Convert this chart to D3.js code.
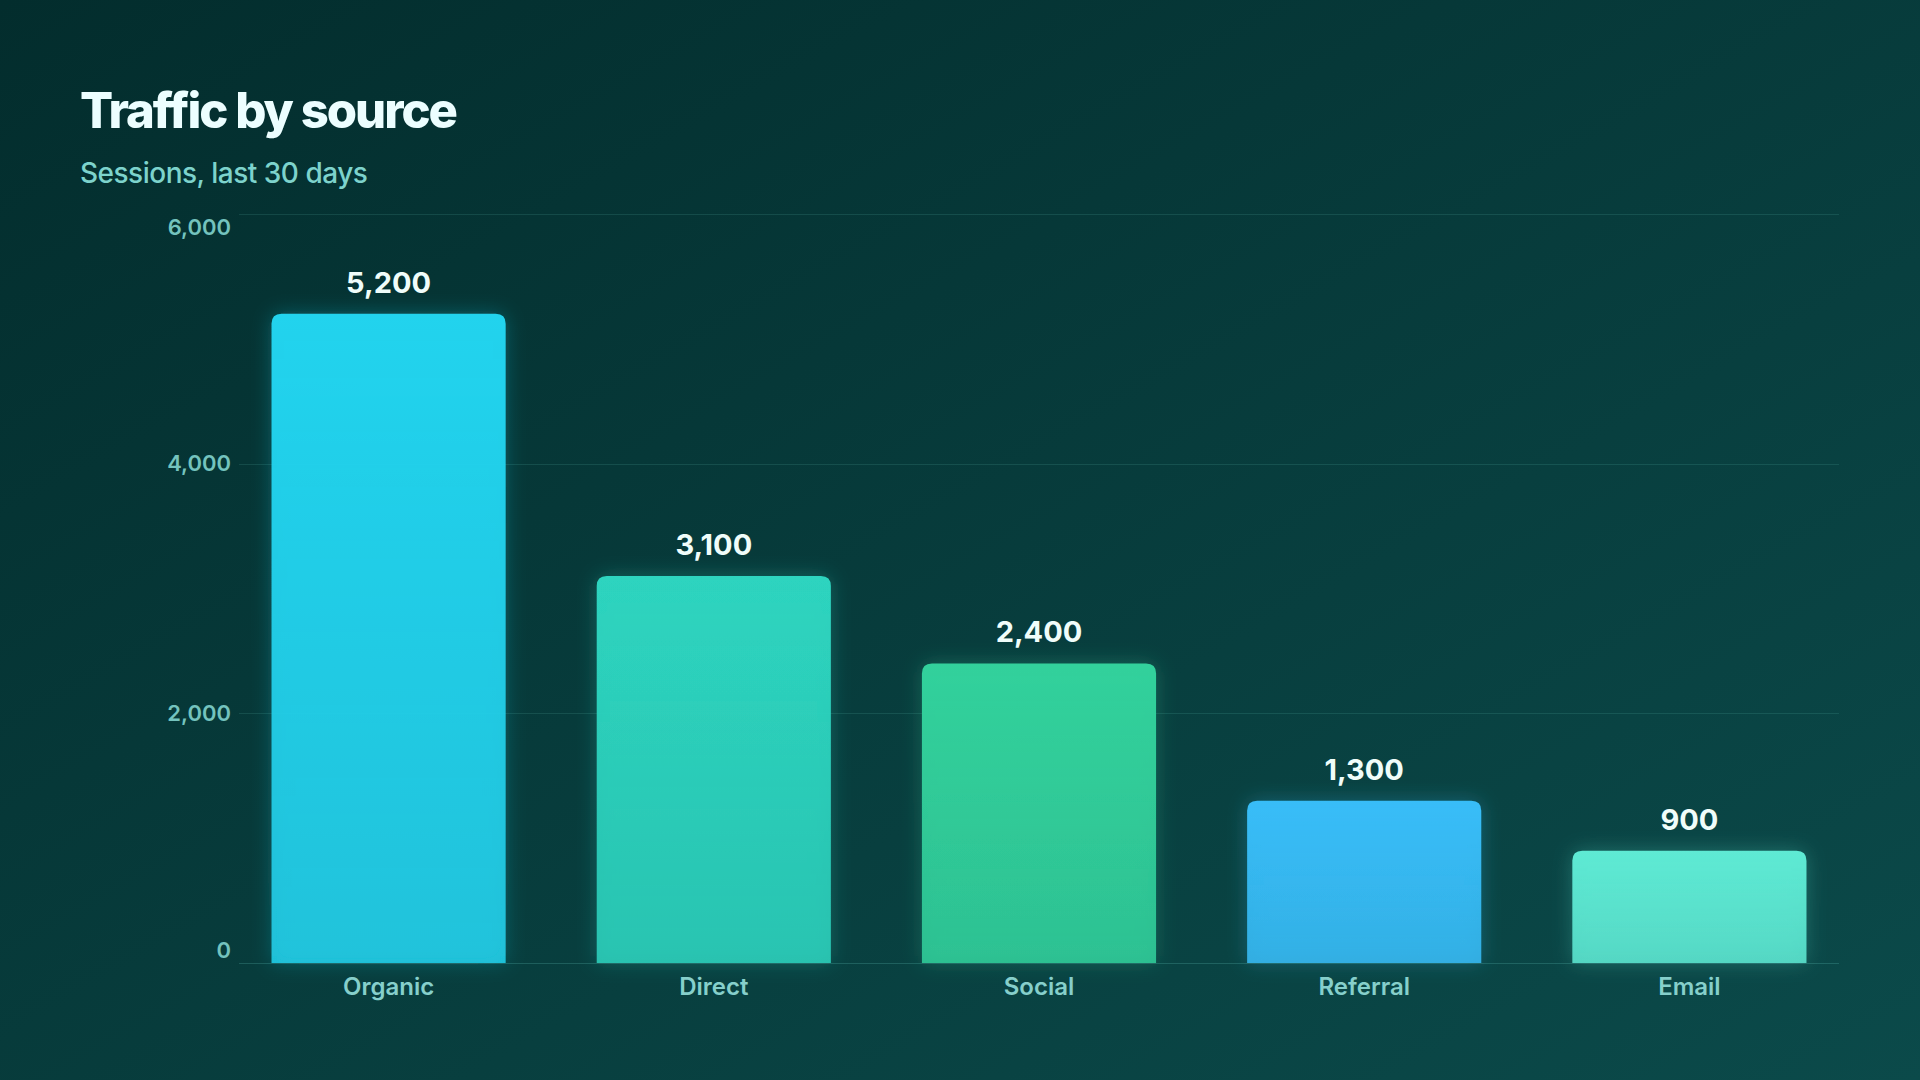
<!DOCTYPE html>
<html>
<head>
<meta charset="utf-8">
<script src="https://cdn.jsdelivr.net/npm/d3@7"></script>
<style>
  html, body { margin: 0; padding: 0; background: #053634; }
  svg { display: block; font-family: Inter, 'Noto Sans', sans-serif; }
</style>
</head>
<body>
<svg id="chart"></svg>
<script>
// Traffic by source — bar chart
const categories = ['Organic', 'Direct', 'Social', 'Referral', 'Email'];
const sessions = [5200, 3100, 2400, 1300, 900];
const barColors = ['#22d3ee', '#2dd4bf', '#32d19c', '#38bdf8', '#5eead4'];
const yTicks = [0, 2000, 4000, 6000];

const width = 1920;
const height = 1080;
const margin = { top: 214, right: 81, bottom: 117, left: 239 };

const svg = d3.select('#chart')
  .attr('width', width)
  .attr('height', height)
  .attr('viewBox', `0 0 ${width} ${height}`);

const defs = svg.append('defs');

// Background
const bg = defs.append('linearGradient')
  .attr('id', 'bg')
  .attr('x1', '0').attr('y1', '0')
  .attr('x2', '1').attr('y2', '1');
bg.append('stop').attr('offset', '0%').attr('stop-color', '#032d2d');
bg.append('stop').attr('offset', '100%').attr('stop-color', '#0b4a4a');

svg.append('rect')
  .attr('width', width)
  .attr('height', height)
  .attr('fill', 'url(#bg)');

// Bar gradients, one per colour
barColors.forEach((c, i) => {
  const g = defs.append('linearGradient')
    .attr('id', `bar-${i}`)
    .attr('x1', '0').attr('y1', '0')
    .attr('x2', '0').attr('y2', '1');
  g.append('stop').attr('offset', '0%').attr('stop-color', c).attr('stop-opacity', 1);
  g.append('stop').attr('offset', '100%').attr('stop-color', c).attr('stop-opacity', 0.86);
});

// Soft glow
const glow = defs.append('filter')
  .attr('id', 'glow')
  .attr('x', '-30%').attr('y', '-30%')
  .attr('width', '160%').attr('height', '160%');
glow.append('feGaussianBlur')
  .attr('in', 'SourceGraphic')
  .attr('stdDeviation', 10)
  .attr('result', 'blur');
glow.append('feComponentTransfer')
  .attr('in', 'blur')
  .attr('result', 'faded')
  .append('feFuncA').attr('type', 'linear').attr('slope', 0.28);
const merge = glow.append('feMerge');
merge.append('feMergeNode').attr('in', 'faded');
merge.append('feMergeNode').attr('in', 'SourceGraphic');

// Title
svg.append('text')
  .attr('x', 80)
  .attr('y', 128)
  .attr('font-size', '49px')
  .attr('font-weight', 800)
  .attr('letter-spacing', '-2px')
  .attr('fill', '#ecfeff')
  .text('Traffic by source');

svg.append('text')
  .attr('x', 80)
  .attr('y', 183)
  .attr('font-size', '28px')
  .attr('font-weight', 500)
  .attr('letter-spacing', '-0.5px')
  .attr('fill', '#7dd3cc')
  .text('Sessions, last 30 days');

// Scales
const x = d3.scaleBand()
  .domain(categories)
  .range([margin.left, width - margin.right])
  .paddingInner(0.28)
  .paddingOuter(0.1);

const y = d3.scaleLinear()
  .domain([0, 6000])
  .range([height - margin.bottom, margin.top]);

// Gridlines
svg.append('g')
  .selectAll('line')
  .data(yTicks)
  .join('line')
  .attr('x1', margin.left)
  .attr('x2', width - margin.right)
  .attr('y1', d => Math.round(y(d)) + 0.5)
  .attr('y2', d => Math.round(y(d)) + 0.5)
  .attr('stroke', d => d === 0 ? 'rgba(110, 210, 200, 0.22)' : 'rgba(110, 210, 200, 0.14)')
  .attr('stroke-width', 1);

// Y tick labels (outer ones nudged inside the plot)
const fmt = d3.format(',');
const yMax = d3.max(yTicks);
svg.append('g')
  .selectAll('text')
  .data(yTicks)
  .join('text')
  .attr('x', margin.left - 8)
  .attr('y', d => y(d))
  .attr('dy', d => d === yMax ? '0.95em' : d === 0 ? '-0.25em' : '0.35em')
  .attr('text-anchor', 'end')
  .attr('font-size', '22px')
  .attr('font-weight', 600)
  .attr('fill', '#74c3be')
  .text(d => fmt(d));

// Bars with rounded top corners
const r = 10;
function barPath(d) {
  const x0 = x(d.cat);
  const w = x.bandwidth();
  const y0 = y(d.value);
  const y1 = y(0);
  return `M${x0},${y1}V${y0 + r}Q${x0},${y0} ${x0 + r},${y0}H${x0 + w - r}Q${x0 + w},${y0} ${x0 + w},${y0 + r}V${y1}Z`;
}

const data = categories.map((cat, i) => ({ cat, value: sessions[i], i }));

svg.append('g')
  .selectAll('path')
  .data(data)
  .join('path')
  .attr('d', barPath)
  .attr('fill', d => `url(#bar-${d.i})`)
  .attr('filter', 'url(#glow)');

// Value labels
svg.append('g')
  .selectAll('text')
  .data(data)
  .join('text')
  .attr('x', d => x(d.cat) + x.bandwidth() / 2)
  .attr('y', d => y(d.value) - 21)
  .attr('text-anchor', 'middle')
  .attr('font-size', '29px')
  .attr('font-weight', 700)
  .attr('fill', '#f0fdfa')
  .text(d => fmt(d.value));

// Category labels
svg.append('g')
  .selectAll('text')
  .data(categories)
  .join('text')
  .attr('x', d => x(d) + x.bandwidth() / 2)
  .attr('y', height - margin.bottom + 32)
  .attr('text-anchor', 'middle')
  .attr('font-size', '24px')
  .attr('font-weight', 600)
  .attr('fill', '#86cfcb')
  .text(d => d);
</script>
</body>
</html>
